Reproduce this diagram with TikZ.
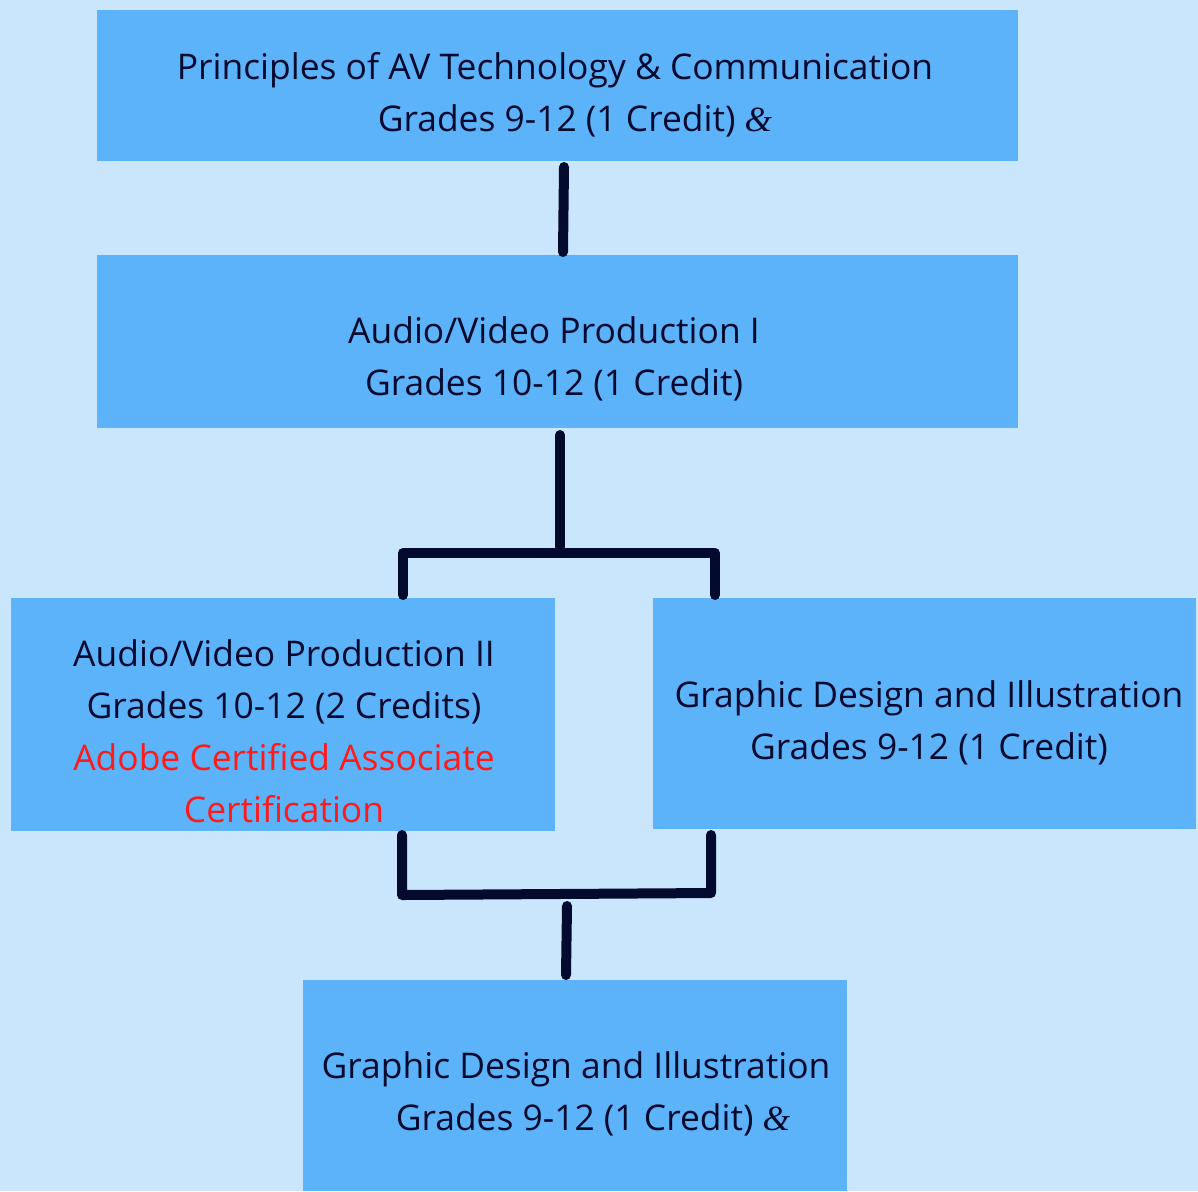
\documentclass[tikz,border=0pt]{standalone}
\usepackage{fontspec}
\setmainfont{Open Sans}
\newfontfamily\ampfont{Liberation Serif}
\definecolor{bgblue}{HTML}{C9E6FD}
\definecolor{boxblue}{HTML}{5CB3FA}
\definecolor{navy}{HTML}{030A2E}
\definecolor{certred}{HTML}{FF1A1A}
\newcommand{\amp}{{\ampfont\itshape\&}}
\begin{document}
\begin{tikzpicture}[x=0.5pt,y=-0.5pt,
  box/.style={fill=boxblue, draw=none, inner sep=0pt},
  label/.style={text=navy, align=center, inner sep=0pt, font=\fontsize{17.7}{26}\selectfont},
  conn/.style={draw=navy, line width=5pt, line cap=round, line join=round}]
\fill[bgblue] (0,0) rectangle (1198,1191);
\useasboundingbox (0,0) rectangle (1198,1191);
% boxes
\node[box, minimum width=460.5pt, minimum height=75.5pt] (top) at (557.5,85.5) {};
\node[box, minimum width=460.5pt, minimum height=86.5pt] (av1) at (557.5,341.5) {};
\node[box, minimum width=272pt, minimum height=116.5pt] (av2) at (283,714.5) {};
\node[box, minimum width=271.5pt, minimum height=115.5pt] (gd1) at (924.5,713.5) {};
\node[box, minimum width=272pt, minimum height=105.5pt] (gd2) at (575,1085.5) {};
% texts
\node[label] (topt) at (555,95) {Principles of AV Technology \& Communication\\ \hspace*{20pt}Grades 9-12 (1 Credit) \amp};
\node[label] (av1t) at (554,359) {Audio/Video Production I\\ Grades 10-12 (1 Credit)};
\node[label] (av2t) at (284,731) {Audio/Video Production II\\ Grades 10-12 (2 Credits)\\ \textcolor{certred}{Adobe Certified Associate}\\ \textcolor{certred}{Certification}};
\node[label] (gd1t) at (929,723) {Graphic Design and Illustration\\ Grades 9-12 (1 Credit)};
\node[label] (gd2t) at (576,1094) {Graphic Design and Illustration\\ \hspace*{17pt}Grades 9-12 (1 Credit) \amp};
% connector coordinates
\coordinate (s1a) at (564,167);
\coordinate (s1b) at (563,252);
\coordinate (s2a) at (560,435);
\coordinate (s2b) at (560,547);
\coordinate (bl1) at (403,595);
\coordinate (bl2) at (403,553);
\coordinate (br2) at (715,553);
\coordinate (br1) at (715,595);
\coordinate (cl1) at (402,835);
\coordinate (cl2) at (402,895);
\coordinate (cr2) at (711,893);
\coordinate (cr1) at (711,835);
\coordinate (s3a) at (567,906);
\coordinate (s3b) at (566,975);
% connectors
\draw[conn] (s1a) -- (s1b);
\draw[conn] (s2a) -- (s2b);
\draw[conn] (bl1) -- (bl2) -- (br2) -- (br1);
\draw[conn] (cl1) -- (cl2) -- (cr2) -- (cr1);
\draw[conn] (s3a) -- (s3b);
\end{tikzpicture}
\end{document}
